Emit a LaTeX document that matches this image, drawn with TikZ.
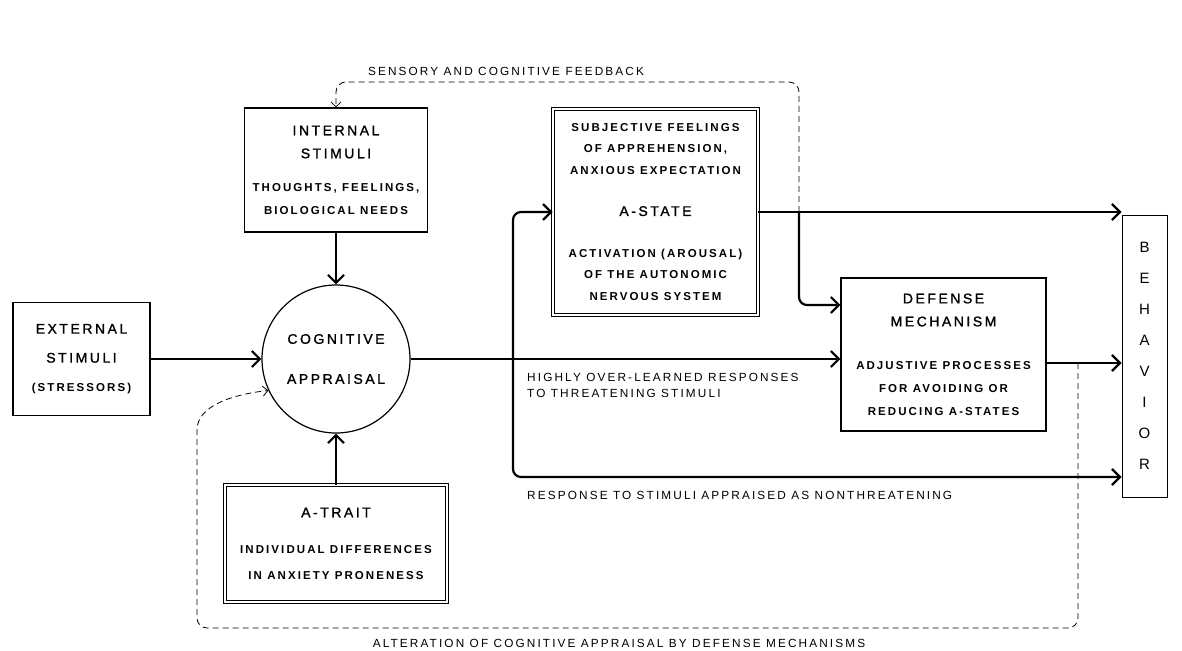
\documentclass[tikz,border=0pt]{standalone}
\usepackage{fontspec}
\setmainfont{Liberation Sans}
\newfontfamily\spacedfont[LetterSpace=18]{Liberation Sans}
\newfontfamily\headfont[LetterSpace=18,FakeBold=1.2]{Liberation Sans}
\usetikzlibrary{arrows.meta}
\newcommand{\boxhead}{\headfont\fontsize{14}{24}\selectfont}
\newcommand{\boxnote}{\spacedfont\bfseries\fontsize{11.5}{22}\selectfont}
\newcommand{\flowlabel}{\spacedfont\fontsize{11.8}{16}\selectfont}

\begin{document}
\begin{tikzpicture}[
        x=1pt, y=-1pt,
        box/.style={draw, line width=1.2pt, align=center, inner sep=0pt},
        dblbox/.style={box, line width=0.9pt, double, double distance=2.4pt},
        skip/.style={font=\fontsize{11}{#1}\selectfont},
        flow/.style={line width=2.2pt, -{Straight Barb[length=8pt,width=16pt,line width=2.2pt]}},
        feedback/.style={line width=0.8pt, dash pattern=on 6pt off 4pt, rounded corners=10pt},
        fbtip/.style={-{Straight Barb[length=5pt,width=10pt,line width=0.8pt]}},
        tag/.style={font=\flowlabel, inner sep=0pt, align=left},
    ]
    \useasboundingbox[fill=white] (0,0) rectangle (1182,650);

    % boxes
    \node[box, skip=29pt, minimum width=137pt, minimum height=113pt] (ext) at (81.5,359)
        {\boxhead EXTERNAL\\\boxhead STIMULI\\\boxnote (STRESSORS)};
    \node[box, circle, minimum size=148pt, font=\boxhead] (appr) at (336,359)
        {COGNITIVE\\[16pt]APPRAISAL};
    \node[box, skip=23pt, minimum width=183pt, minimum height=124pt] (intl) at (336,170)
        {\boxhead INTERNAL\\\boxhead STIMULI\\[10pt]\boxnote THOUGHTS, FEELINGS,\\\boxnote BIOLOGICAL NEEDS};
    \node[dblbox, skip=26pt, minimum width=222pt, minimum height=117pt] (trait) at (336,543.5)
        {\boxhead A-TRAIT\\[10pt]\boxnote INDIVIDUAL DIFFERENCES\\\boxnote IN ANXIETY PRONENESS};
    \node[dblbox, skip=21.5pt, minimum width=205pt, minimum height=206pt] (astate) at (655.5,212)
        {\boxnote SUBJECTIVE FEELINGS\\\boxnote OF APPREHENSION,\\\boxnote ANXIOUS EXPECTATION\\[20pt]
         \boxhead A-STATE\\[20pt]\boxnote ACTIVATION (AROUSAL)\\\boxnote OF THE AUTONOMIC\\\boxnote NERVOUS SYSTEM};
    \node[box, skip=23pt, minimum width=205pt, minimum height=153pt] (def) at (943.5,354.5)
        {\boxhead DEFENSE\\\boxhead MECHANISM\\[20pt]\boxnote ADJUSTIVE PROCESSES\\\boxnote FOR AVOIDING OR\\\boxnote REDUCING A-STATES};
    \node[box, line width=1pt, minimum width=45pt, minimum height=282pt, font=\fontsize{15}{31}\selectfont] (beh) at (1144.5,356)
        {B\\E\\H\\A\\V\\I\\O\\R};

    % solid paths
    \coordinate (split) at (513,359);
    \coordinate (tap) at (799,212);
    \coordinate (alt) at (1078,363);
    \draw[flow] (ext) -- (appr);
    \draw[flow] (intl) -- (appr);
    \draw[flow] (trait) -- (appr);
    \draw[line width=2.2pt] (appr) -- (split);
    \draw[flow] (split) -- (split -| def.west);
    \draw[flow, rounded corners=8pt] (split) |- (astate);
    \draw[flow, rounded corners=8pt] (split) |- (beh.west |- 0,477);
    \draw[flow] (astate.east) -- (astate.east -| beh.west);
    \draw[flow, rounded corners=8pt] (tap) |- (def.west |- 0,305);
    \draw[flow] (def.east |- 0,363) -- (beh.west |- 0,363);

    % dashed feedback
    \draw[feedback, fbtip] (tap) |- (intl.north |- 0,82) -- (intl.north);
    \draw[feedback, fbtip] (alt) |- (197,628) -- (197,440)
        .. controls (197,405) and (235,394) .. (appr.205);

    % labels
    \node[tag, anchor=base] (fbtag) at (506,76) {SENSORY AND COGNITIVE FEEDBACK};
    \node[tag, anchor=base west] (overtag) at (527,397)
        {HIGHLY OVER-LEARNED RESPONSES\\TO THREATENING STIMULI};
    \node[tag, anchor=base west] (safetag) at (527,499)
        {RESPONSE TO STIMULI APPRAISED AS NONTHREATENING};
    \node[tag, anchor=base] (alttag) at (619,647)
        {ALTERATION OF COGNITIVE APPRAISAL BY DEFENSE MECHANISMS};
\end{tikzpicture}
\end{document}
